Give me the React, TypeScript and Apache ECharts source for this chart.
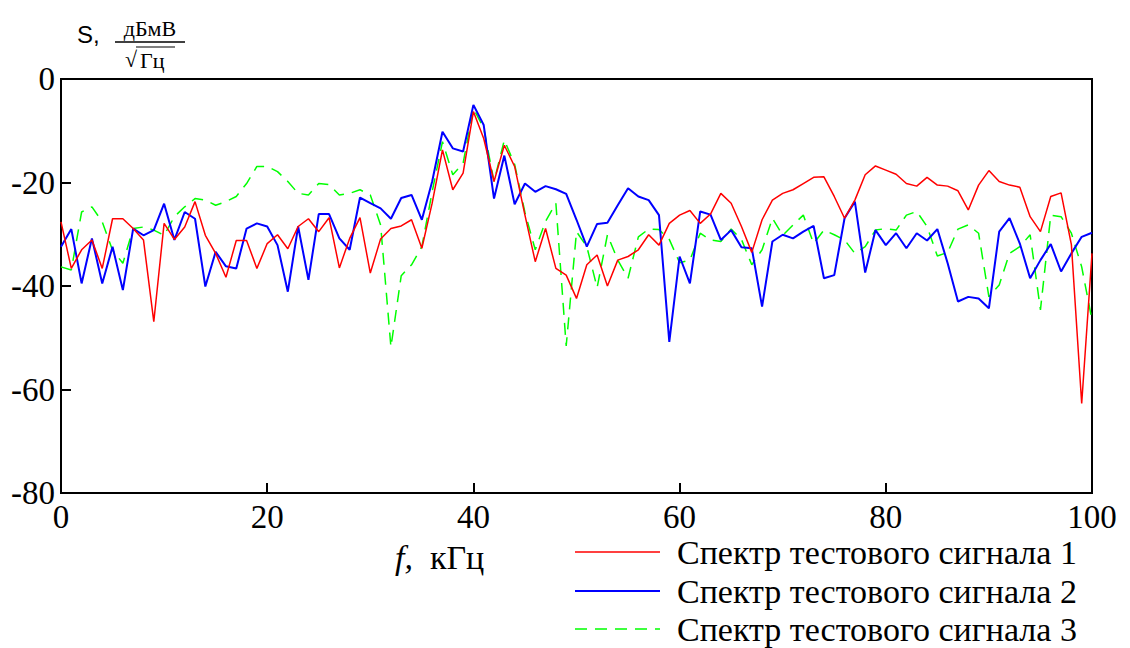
import React, { useEffect, useRef } from "react";
import * as echarts from "echarts";

const freqs: number[] = Array.from({ length: 101 }, (_, i) => i);

const series1: number[] = [
  -27.6, -36.6, -33, -31.1, -36.6, -27, -27, -28.9, -31.1, -46.9,
  -27.9, -31, -28.6, -23.7, -30.2, -33.7, -38.3, -31.2, -31.2, -36.6,
  -31.8, -30.1, -32.8, -28.5, -27, -29.5, -26.8, -36.5, -30.8, -26.8,
  -37.5, -30.9, -28.9, -28.4, -27.2, -32.7, -24, -13.7, -21.4, -18.2,
  -6.3, -11.5, -19.8, -12.8, -16.9, -26.3, -35.3, -28.9, -36.6, -37.9,
  -42.4, -35.9, -34, -40, -35, -34.3, -33, -30.1, -32.1, -27.9,
  -26.3, -25.4, -27.9, -26.1, -22.1, -24, -28.5, -33.5, -27.2, -23.4,
  -22.1, -21.4, -20.2, -19, -18.9, -22.7, -26.9, -23.4, -18.5, -16.8,
  -17.6, -18.4, -20.2, -20.7, -19, -20.5, -20.7, -21.6, -25.3, -20.5,
  -17.7, -19.8, -20.5, -20.9, -26.6, -29.5, -22.7, -22, -32, -62.7,
  -33.7,
];

const series2: number[] = [
  -32.4, -29, -39.5, -30.8, -39.5, -32.4, -40.8, -28.9, -30.2, -29.2,
  -24.1, -31.1, -25.7, -27, -40.1, -33.4, -36.2, -36.6, -28.9, -27.9,
  -28.5, -32.1, -41.1, -28.5, -38.8, -26.1, -26.1, -30.8, -33, -22.9,
  -24, -25, -27, -23, -22.4, -27.2, -19.8, -10.2, -13.4, -14,
  -5, -8.9, -23.1, -14.8, -24.2, -20.2, -21.8, -20.7, -21.3, -22.2,
  -27.2, -32.4, -28, -27.8, -24.4, -21.1, -22.7, -23.4, -26.3, -50.8,
  -34.3, -39.5, -25.6, -26.2, -31.1, -29.2, -32.5, -32.7, -44, -31.4,
  -30.1, -30.8, -29.5, -28.4, -38.5, -37.9, -26.9, -23.7, -37.4, -29.2,
  -32.1, -29.8, -32.7, -29.8, -31.2, -29, -35.6, -43, -42.1, -42.4,
  -44.3, -29.5, -26.9, -31.8, -38.5, -35, -31.9, -37.2, -33.7, -30.5,
  -29.7,
];

const series3: number[] = [
  -36.3, -36.9, -25.7, -24.7, -27.6, -33.1, -35.6, -28.9, -28.6, -29.2,
  -30.2, -26.6, -24.7, -23.1, -23.4, -24.4, -23.7, -22.7, -20.2, -16.9,
  -16.9, -17.9, -19.8, -22.1, -22.4, -20.2, -20.4, -22.4, -22.1, -21.4,
  -22.4, -28.2, -51.8, -38, -35.9, -32.4, -21.8, -12.1, -18.5, -16.3,
  -5.7, -9.5, -19.8, -11.8, -16.5, -25.8, -33, -27.5, -24, -51.6,
  -29.5, -32.4, -40.3, -30.1, -35, -38.5, -30.5, -29, -29.1, -31,
  -35.5, -35, -29.8, -31.1, -31.4, -29, -31, -35.9, -33, -26.9,
  -30.2, -28.2, -26.3, -31.8, -29.2, -30.1, -31.1, -33.7, -32.4, -29.2,
  -28.9, -29.2, -26.3, -25.6, -28.5, -34.2, -33.5, -29, -28.2, -29.8,
  -42.1, -39.8, -33.7, -32.4, -30.1, -44.6, -26.3, -26.6, -29.8, -36.3,
  -46.6,
];

const seriesNames: string[] = [
  "Спектр тестового сигнала 1",
  "Спектр тестового сигнала 2",
  "Спектр тестового сигнала 3",
];

const xTicks = { min: 0, max: 100, interval: 20 };
const yTicks = { min: -80, max: 0, interval: 20 };

const SERIF = '"Liberation Serif", "Times New Roman", serif';
const SANS = '"Liberation Sans", Arial, sans-serif';
const FS = 33;
const LFS = 34;

export default function App() {
  const ref = useRef<HTMLDivElement>(null);

  useEffect(() => {
    document.body.style.margin = "0";
    if (!ref.current) return;
    const chart = echarts.init(ref.current, null, { renderer: "svg" });
    const pair = (arr: number[]) => freqs.map((f, i) => [f, arr[i]]);
    const colors = ["#ff0000", "#0000ff", "#00ff00"];
    const widths = [1.5, 2, 1.5];
    const types: any[] = ["solid", "solid", [12, 8]];
    const datasets = [series1, series2, series3];
    const rowY = [552, 591, 629];

    const legendGraphics: any[] = [];
    seriesNames.forEach((name, i) => {
      const cy = rowY[i];
      legendGraphics.push({
        type: "line",
        shape: { x1: 575, y1: cy, x2: 660, y2: cy },
        style: {
          stroke: colors[i],
          lineWidth: widths[i],
          lineDash: types[i] === "solid" ? null : types[i],
        },
      });
      legendGraphics.push({
        type: "text",
        x: 677,
        y: cy,
        style: {
          text: name,
          font: `${LFS}px ${SERIF}`,
          fill: "#000",
          textVerticalAlign: "middle",
        },
      });
    });

    chart.setOption({
      animation: false,
      backgroundColor: "#ffffff",
      grid: {
        left: 61,
        right: 38,
        top: 79,
        bottom: 155,
        show: true,
        borderColor: "#000",
        borderWidth: 2,
        backgroundColor: "transparent",
      },
      xAxis: {
        type: "value",
        min: xTicks.min,
        max: xTicks.max,
        interval: xTicks.interval,
        axisLine: { show: true, onZero: false, lineStyle: { color: "#000", width: 2 } },
        axisTick: { show: true, inside: true, length: 10, lineStyle: { color: "#000", width: 2 } },
        splitLine: { show: false },
        axisLabel: {
          color: "#000",
          fontFamily: SERIF,
          fontSize: FS,
          margin: 7,
        },
      },
      yAxis: {
        type: "value",
        min: yTicks.min,
        max: yTicks.max,
        interval: yTicks.interval,
        axisLine: { show: true, onZero: false, lineStyle: { color: "#000", width: 2 } },
        axisTick: { show: true, inside: true, length: 10, lineStyle: { color: "#000", width: 2 } },
        splitLine: { show: false },
        axisLabel: {
          color: "#000",
          fontFamily: SERIF,
          fontSize: FS,
          margin: 6,
          formatter: (v: number) => String(v),
        },
      },
      series: datasets.map((d, i) => ({
        name: seriesNames[i],
        type: "line",
        data: pair(d),
        showSymbol: false,
        symbol: "none",
        color: colors[i],
        lineStyle: { color: colors[i], width: widths[i], type: types[i] },
        z: 3 - i,
      })),
      graphic: [
        {
          type: "text",
          x: 77,
          y: 22,
          style: { text: "S,", font: `24px ${SANS}`, fill: "#000", textVerticalAlign: "top" },
        },
        {
          type: "text",
          x: 150,
          y: 17,
          style: {
            text: "дБмВ",
            font: `22px ${SERIF}`,
            fill: "#000",
            textAlign: "center",
            textVerticalAlign: "top",
          },
        },
        {
          type: "line",
          shape: { x1: 115, y1: 42, x2: 185, y2: 42 },
          style: { stroke: "#000", lineWidth: 1.5 },
        },
        {
          type: "text",
          x: 125,
          y: 48,
          style: { text: "√", font: `22px ${SERIF}`, fill: "#000", textVerticalAlign: "top" },
        },
        {
          type: "line",
          shape: { x1: 136, y1: 47, x2: 175, y2: 47 },
          style: { stroke: "#000", lineWidth: 1.2 },
        },
        {
          type: "text",
          x: 140,
          y: 49,
          style: { text: "Гц", font: `22px ${SERIF}`, fill: "#000", textVerticalAlign: "top" },
        },
        {
          type: "text",
          x: 395,
          y: 557,
          style: {
            text: "{i|f,}  кГц",
            font: `${LFS}px ${SERIF}`,
            fill: "#000",
            textVerticalAlign: "middle",
            rich: {
              i: { fontStyle: "italic", fontFamily: SERIF, fontSize: LFS, fill: "#000" },
            },
          },
        },
        ...legendGraphics,
      ],
    });

    return () => {
      chart.dispose();
    };
  }, []);

  return <div ref={ref} style={{ width: 1130, height: 648 }} />;
}
